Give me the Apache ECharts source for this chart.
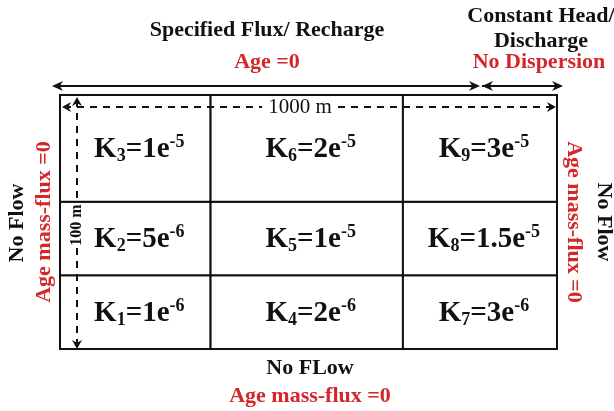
<!DOCTYPE html>
<html>
<head>
<meta charset="utf-8">
<script src="https://cdn.jsdelivr.net/npm/echarts@6/dist/echarts.min.js"></script>
<style>html,body{margin:0;padding:0;background:#fff;}#c{width:614px;height:411px;}</style>
</head>
<body>
<div id="c"></div>
<script>
// Domain: 1000 m long x 100 m deep
const colEdges = [0, 303, 690, 1000];
const rowEdges = [0, 29, 58, 100];
// cells (column index, row index from bottom), K index, mantissa, exponent
const cellCol = [0, 0, 0, 1, 1, 1, 2, 2, 2];
const cellRow = [0, 1, 2, 0, 1, 2, 0, 1, 2];
const kIndex = ['1', '2', '3', '4', '5', '6', '7', '8', '9'];
const kMantissa = ['1', '5', '1', '2', '1', '2', '3', '1.5', '3'];
const kExponent = ['-6', '-6', '-5', '-6', '-5', '-5', '-6', '-5', '-5'];

const RED = '#d3272a';
const SERIF = '"Liberation Serif", "Times New Roman", serif';

const data = cellCol.map((c, i) => [colEdges[c], colEdges[c + 1], rowEdges[cellRow[i]], rowEdges[cellRow[i] + 1], i]);

function renderItem(params, api) {
  const i = api.value(4);
  const p0 = api.coord([api.value(0), api.value(3)]);
  const p1 = api.coord([api.value(1), api.value(2)]);
  return {
    type: 'group',
    children: [
      { type: 'rect', shape: { x: p0[0], y: p0[1], width: p1[0] - p0[0], height: p1[1] - p0[1] },
        style: { fill: '#fff', stroke: '#111', lineWidth: 2 } },
      { type: 'text', x: (p0[0] + p1[0]) / 2 + 4, y: (p0[1] + p1[1]) / 2 + 1,
        style: {
          text: '{b|K}{sub|' + kIndex[i] + '}{b|=' + kMantissa[i] + 'e}{sup|' + kExponent[i] + '}',
          align: 'center', verticalAlign: 'middle',
          rich: {
            b: { fontFamily: SERIF, fontWeight: 'bold', fontSize: 29, lineHeight: 32, fill: '#111' },
            sub: { fontFamily: SERIF, fontWeight: 'bold', fontSize: 18, lineHeight: 14, verticalAlign: 'bottom', fill: '#111' },
            sup: { fontFamily: SERIF, fontWeight: 'bold', fontSize: 18, lineHeight: 14, verticalAlign: 'top', fill: '#111' }
          }
        } }
    ]
  };
}

function tri(tipX, tipY, dir, len, half) {
  let pts;
  if (dir === 'left') pts = [[tipX, tipY], [tipX + len, tipY - half], [tipX + len * 0.7, tipY], [tipX + len, tipY + half]];
  if (dir === 'right') pts = [[tipX, tipY], [tipX - len, tipY - half], [tipX - len * 0.7, tipY], [tipX - len, tipY + half]];
  if (dir === 'up') pts = [[tipX, tipY], [tipX - half, tipY + len], [tipX, tipY + len * 0.7], [tipX + half, tipY + len]];
  if (dir === 'down') pts = [[tipX, tipY], [tipX - half, tipY - len], [tipX, tipY - len * 0.7], [tipX + half, tipY - len]];
  return { type: 'polygon', shape: { points: pts }, style: { fill: '#111' }, z: 10 };
}
function line(x1, y1, x2, y2, dash) {
  return { type: 'line', shape: { x1, y1, x2, y2 }, style: { stroke: '#111', lineWidth: 2, lineDash: dash || null }, z: 10 };
}
function txt(text, x, y, color, size, rot, weight) {
  return { type: 'text', x, y, rotation: rot || 0, z: 11,
    style: { text, align: 'center', verticalAlign: 'middle', fill: color,
      font: (weight || 'bold') + ' ' + size + 'px ' + SERIF } };
}

const graphics = [
  // top boundary annotations
  txt('Specified Flux/ Recharge', 267, 30, '#111', 22),
  txt('Age =0', 267, 62, RED, 22),
  txt('Constant Head/', 541, 16, '#111', 22),
  txt('Discharge', 541, 41, '#111', 22),
  txt('No Dispersion', 539, 62, RED, 22),
  line(54, 86, 478, 86), tri(52, 86, 'left', 11, 5), tri(480, 86, 'right', 11, 5),
  line(482, 86, 561, 86), tri(482, 86, 'left', 11, 5), tri(563, 86, 'right', 11, 5),
  // 1000 m dimension
  line(64, 107, 262, 107, [7, 6]), line(338, 107, 553, 107, [7, 6]),
  tri(62, 107, 'left', 9, 5), tri(556, 107, 'right', 9, 5),
  txt('1000 m', 300, 107, '#111', 21, 0, 'normal'),
  // 100 m dimension
  line(77, 100, 77, 203, [7, 6]), line(77, 248, 77, 346, [7, 6]),
  tri(77, 97, 'up', 9, 5), tri(77, 349, 'down', 9, 5),
  txt('100 m', 77, 225, '#111', 16, Math.PI / 2),
  // left boundary
  txt('No Flow', 17, 223, '#111', 22, Math.PI / 2),
  txt('Age mass-flux =0', 44, 222, RED, 22, Math.PI / 2),
  // right boundary
  txt('Age mass-flux =0', 574, 222, RED, 22, -Math.PI / 2),
  txt('No Flow', 604, 222, '#111', 22, -Math.PI / 2),
  // bottom boundary
  txt('No FLow', 310, 368, '#111', 22),
  txt('Age mass-flux =0', 310, 396, RED, 22)
];

const chart = echarts.init(document.getElementById('c'), null, { renderer: 'canvas' });
chart.setOption({
  animation: false,
  backgroundColor: '#fff',
  grid: { left: 60, right: 57, top: 95, bottom: 62 },
  xAxis: { type: 'value', min: 0, max: 1000, show: false },
  yAxis: { type: 'value', min: 0, max: 100, show: false },
  series: [{ type: 'custom', renderItem, data, clip: false, encode: { x: [0, 1], y: [2, 3] } }],
  graphic: { elements: graphics }
});
</script>
</body>
</html>
